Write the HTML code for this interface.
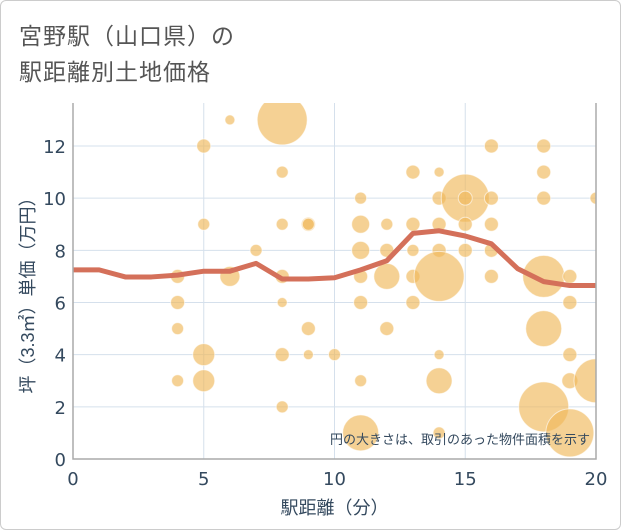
<!DOCTYPE html>
<html><head><meta charset="utf-8"><style>
body{margin:0;background:#fff;font-family:"Liberation Sans","Noto Sans CJK JP",sans-serif}
#wrap{position:relative;width:619px;height:528px;border:1px solid #ccc;border-radius:6px;overflow:hidden}
.t{position:absolute;left:18px;font-size:23px;color:#555;letter-spacing:1px}
</style></head><body>
<div id="wrap">
<div class="t" style="top:16px">宮野駅（山口県）の</div>
<div class="t" style="top:52px">駅距離別土地価格</div>
<svg id="c" width="621" height="530" style="position:absolute;left:-1px;top:-1px"></svg>
</div>
<script>
const xTicks=[0,5,10,15,20];
const yTicks=[0,2,4,6,8,10,12];
const bubbleX=[4,4,4,4,5,5,5,5,6,6,7,8,8,8,8,8,8,8,9,9,9,9,10,11,11,11,11,11,11,11,12,12,12,12,13,13,13,13,13,14,14,14,14,14,14,14,14,15,15,15,15,16,16,16,16,16,18,18,18,18,18,18,19,19,19,19,19,20,20];
const bubbleY=[7,6,5,3,12,9,4,3,13,7,8,13,11,9,7,6,4,2,9,9,5,4,4,10,9,8,7,6,3,1,9,8,7,5,11,9,8,7,6,11,10,9,8,7,4,3,1,10,10,9,8,12,10,9,8,7,12,11,10,7,5,2,7,6,4,3,1,10,3];
const bubbleSize=[7,7,6,6,7,6,11,11,5,10,6,25,6,6,7,5,7,6,7,6,7,5,6,6,9,9,7,7,6,18,6,7,13,7,7,7,6,7,7,5,7,7,7,25,5,13,6,24,7,7,7,7,7,7,7,7,7,7,7,21,18,25,7,7,7,8,24,6,22];
const lineX=[0,1,2,3,4,5,6,7,8,9,10,11,12,13,14,15,16,17,18,19,20];
const lineY=[7.25,7.25,6.98,6.98,7.05,7.2,7.2,7.5,6.9,6.9,6.95,7.25,7.6,8.65,8.75,8.55,8.25,7.3,6.8,6.65,6.65];
const L=73,R=596,T=103,B=459;
const sx=v=>L+v*(R-L)/20, sy=v=>B-v*(B-146)/12;
const svg=document.getElementById('c');const NS='http://www.w3.org/2000/svg';
const TF='"DejaVu Sans",sans-serif', TC='#34495e';
function mk(t,a,p){const e=document.createElementNS(NS,t);for(const k in a)e.setAttribute(k,a[k]);(p||svg).appendChild(e);return e;}
const cp=mk('clipPath',{id:'cp'});mk('rect',{x:L,y:T,width:R-L,height:B-T},cp);
xTicks.forEach(v=>{const g=mk('line',{x1:sx(v),x2:sx(v),y1:T,y2:B,stroke:'#d5e0ec','stroke-width':1});

const t=mk('text',{x:sx(v),y:B+26,'text-anchor':'middle','font-size':18,fill:TC,'font-family':TF});t.textContent=v;
});
yTicks.forEach(v=>{const g=mk('line',{x1:L,x2:R,y1:sy(v),y2:sy(v),stroke:'#d5e0ec','stroke-width':1});

const t=mk('text',{x:L-7,y:sy(v)+7,'text-anchor':'end','font-size':18,fill:TC,'font-family':TF});t.textContent=v;
});
const gb=mk('g',{'clip-path':'url(#cp)'});
bubbleX.forEach((x,i)=>{const c=mk('circle',{cx:sx(x),cy:sy(bubbleY[i]),r:bubbleSize[i],fill:'rgba(240,185,90,0.65)',stroke:'rgba(255,255,255,0.6)','stroke-width':1},gb);
});
const pl=mk('polyline',{points:lineX.map((x,i)=>sx(x)+','+sy(lineY[i])).join(' '),fill:'none',stroke:'#d4705a','stroke-width':5,'stroke-linejoin':'round'},gb);

const ax=mk('path',{d:`M${L} ${T}V${B}H${R}V${T}`,fill:'none',stroke:'#aaa','stroke-width':1.5});

const note=mk('text',{x:590,y:444,'text-anchor':'end','font-size':13,fill:TC});note.textContent='円の大きさは、取引のあった物件面積を示す';

const xt=mk('text',{x:(L+R)/2,y:514,'text-anchor':'middle','font-size':18,fill:TC});xt.textContent='駅距離（分）';

const yt=mk('text',{x:0,y:0,'text-anchor':'middle','font-size':18,fill:TC,transform:`translate(34 ${(T+B)/2+10}) rotate(-90)`});yt.textContent='坪（3.3㎡）単価（万円）';

</script>
</body></html>
